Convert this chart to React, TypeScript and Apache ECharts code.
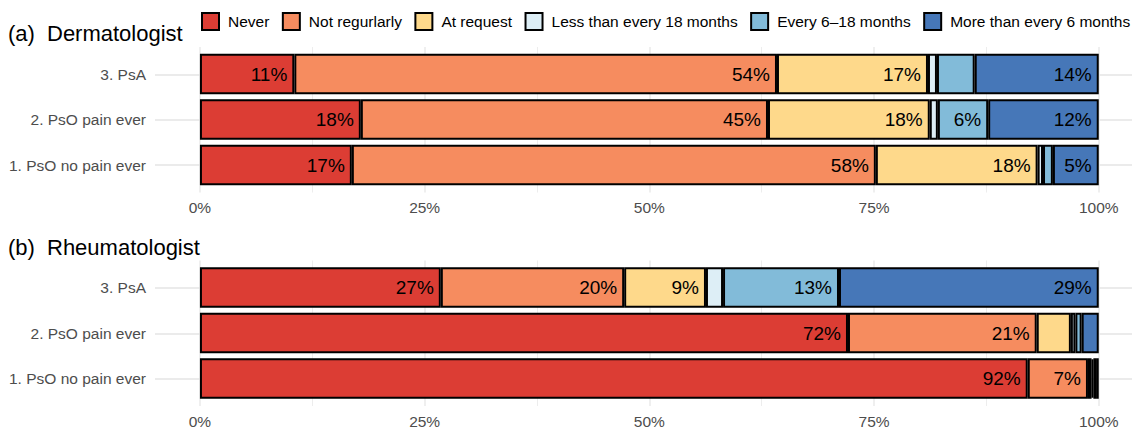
import React, { useEffect, useRef } from 'react';
import * as echarts from 'echarts';

// ---- data ----
const CATEGORIES = ['3. PsA', '2. PsO pain ever', '1. PsO no pain ever'];
const LEVELS = [
  'Never',
  'Not regurlarly',
  'At request',
  'Less than every 18 months',
  'Every 6–18 months',
  'More than every 6 months',
];
const COLORS = ['#dc3d34', '#f68c5f', '#fed98b', '#ddeef6', '#82bbd9', '#4677b8'];
const X_TICKS = [0, 25, 50, 75, 100];
const X_MINOR = [12.5, 37.5, 62.5, 87.5];
const PANEL_LETTERS = ['(a)', '(b)'];
const PANEL_NAMES = ['Dermatologist', 'Rheumatologist'];

// (a) Dermatologist — order follows CATEGORIES
const DERM_NEVER = [10.5, 17.9, 16.9];
const DERM_NOT_REG = [53.7, 45.3, 58.3];
const DERM_AT_REQ = [16.8, 18.0, 18.0];
const DERM_LT18 = [1.0, 0.9, 0.6];
const DERM_6_18 = [4.2, 5.6, 1.1];
const DERM_GT6 = [13.8, 12.3, 5.1];

// (b) Rheumatologist
const RHEU_NEVER = [26.8, 72.1, 92.1];
const RHEU_NOT_REG = [20.4, 21.0, 6.7];
const RHEU_AT_REQ = [9.1, 3.8, 0.4];
const RHEU_LT18 = [1.9, 0.5, 0.2];
const RHEU_6_18 = [12.9, 0.7, 0.3];
const RHEU_GT6 = [28.9, 1.9, 0.3];

const DERM = [DERM_NEVER, DERM_NOT_REG, DERM_AT_REQ, DERM_LT18, DERM_6_18, DERM_GT6];
const RHEU = [RHEU_NEVER, RHEU_NOT_REG, RHEU_AT_REQ, RHEU_LT18, RHEU_6_18, RHEU_GT6];
const PANELS = [DERM, RHEU];

const FONT = "'Liberation Sans', Arial, Helvetica, sans-serif";
const PANEL_OFFSET = 213.5;
const X_MIN = -5;
const X_MAX = 103.7;
const GRID_LEFT = 155;
const GRID_LINE = '#ebebeb';
const AXIS_TEXT = '#4d4d4d';

function buildOption() {
  const grid: any[] = [];
  const xAxis: any[] = [];
  const yAxis: any[] = [];
  const series: any[] = [];
  const title: any[] = [];

  PANELS.forEach((panel, p) => {
    const off = p * PANEL_OFFSET;
    const bgGrid = grid.length;
    grid.push({ left: GRID_LEFT, right: 0, top: 47 + off, height: 145.5 });
    const barGrid = grid.length;
    grid.push({ left: GRID_LEFT, right: 0, top: 51.25 + off, height: 136.5 });

    // background: major vertical grid + tick labels
    xAxis.push({
      type: 'value', gridIndex: bgGrid, min: X_MIN, max: X_MAX, position: 'bottom',
      axisLine: { show: false },
      axisTick: { show: false, customValues: X_TICKS },
      axisLabel: {
        customValues: X_TICKS, formatter: '{value}%', color: AXIS_TEXT,
        fontSize: 15.5, fontFamily: FONT, margin: 7,
      },
      splitLine: { show: true, lineStyle: { color: GRID_LINE, width: 1.6 } },
    });
    // background: minor vertical grid
    xAxis.push({
      type: 'value', gridIndex: bgGrid, min: X_MIN, max: X_MAX, position: 'top',
      axisLine: { show: false },
      axisTick: { show: false, customValues: X_MINOR },
      axisLabel: { show: false },
      splitLine: { show: true, lineStyle: { color: GRID_LINE, width: 0.9 } },
    });
    // bars x axis
    const barX = xAxis.length;
    xAxis.push({ type: 'value', gridIndex: barGrid, min: X_MIN, max: X_MAX, show: false });

    // background y: horizontal grid at category centres
    yAxis.push({
      type: 'value', gridIndex: bgGrid, min: 0.4, max: 3.6,
      axisLine: { show: false },
      axisTick: { show: false, customValues: [1, 2, 3] },
      axisLabel: { show: false },
      splitLine: { show: true, lineStyle: { color: GRID_LINE, width: 2 } },
    });
    const barY = yAxis.length;
    yAxis.push({
      type: 'category', gridIndex: barGrid, data: CATEGORIES, inverse: true,
      axisLine: { show: false }, axisTick: { show: false },
      axisLabel: { color: AXIS_TEXT, fontSize: 15.5, fontFamily: FONT, margin: 9 },
      splitLine: { show: false },
    });

    panel.forEach((vals, i) => {
      series.push({
        type: 'bar',
        name: LEVELS[i],
        stack: 'panel' + p,
        xAxisIndex: barX,
        yAxisIndex: barY,
        barCategoryGap: '11%',
        itemStyle: { color: COLORS[i], borderColor: '#000', borderWidth: 2 },
        emphasis: { disabled: true },
        label: {
          position: 'insideRight',
          distance: 7,
          color: '#000',
          fontSize: 19,
          fontFamily: FONT,
          formatter: (d: any) => Math.round(d.value) + '%',
        },
        data: vals.map((v) => ({ value: v, label: { show: v >= 5 } })),
      });
    });

    title.push({
      text: PANEL_LETTERS[p], left: 8, top: 22.5 + off, padding: 0,
      textStyle: { fontSize: 22, fontWeight: 'normal', color: '#000', fontFamily: FONT },
    });
    title.push({
      text: PANEL_NAMES[p], left: 47, top: 22.5 + off, padding: 0,
      textStyle: { fontSize: 22, fontWeight: 'normal', color: '#000', fontFamily: FONT },
    });
  });

  return {
    animation: false,
    backgroundColor: '#fff',
    title,
    legend: {
      data: LEVELS,
      left: 201,
      top: 12,
      width: 1000,
      padding: 0,
      icon: 'rect',
      itemWidth: 17,
      itemHeight: 17,
      itemGap: 12.5,
      selectedMode: false,
      itemStyle: { borderColor: '#000', borderWidth: 2 },
      textStyle: { fontSize: 15.5, color: '#000', fontFamily: FONT, padding: [0, 0, 0, 4] },
    },
    grid,
    xAxis,
    yAxis,
    series,
  };
}

export default function App() {
  const ref = useRef<HTMLDivElement>(null);
  useEffect(() => {
    document.body.style.margin = '0';
    if (!ref.current) return;
    const chart = echarts.init(ref.current, null, { renderer: 'svg' });
    chart.setOption(buildOption() as any);
    return () => chart.dispose();
  }, []);
  return <div ref={ref} style={{ width: 1132, height: 429 }} />;
}
